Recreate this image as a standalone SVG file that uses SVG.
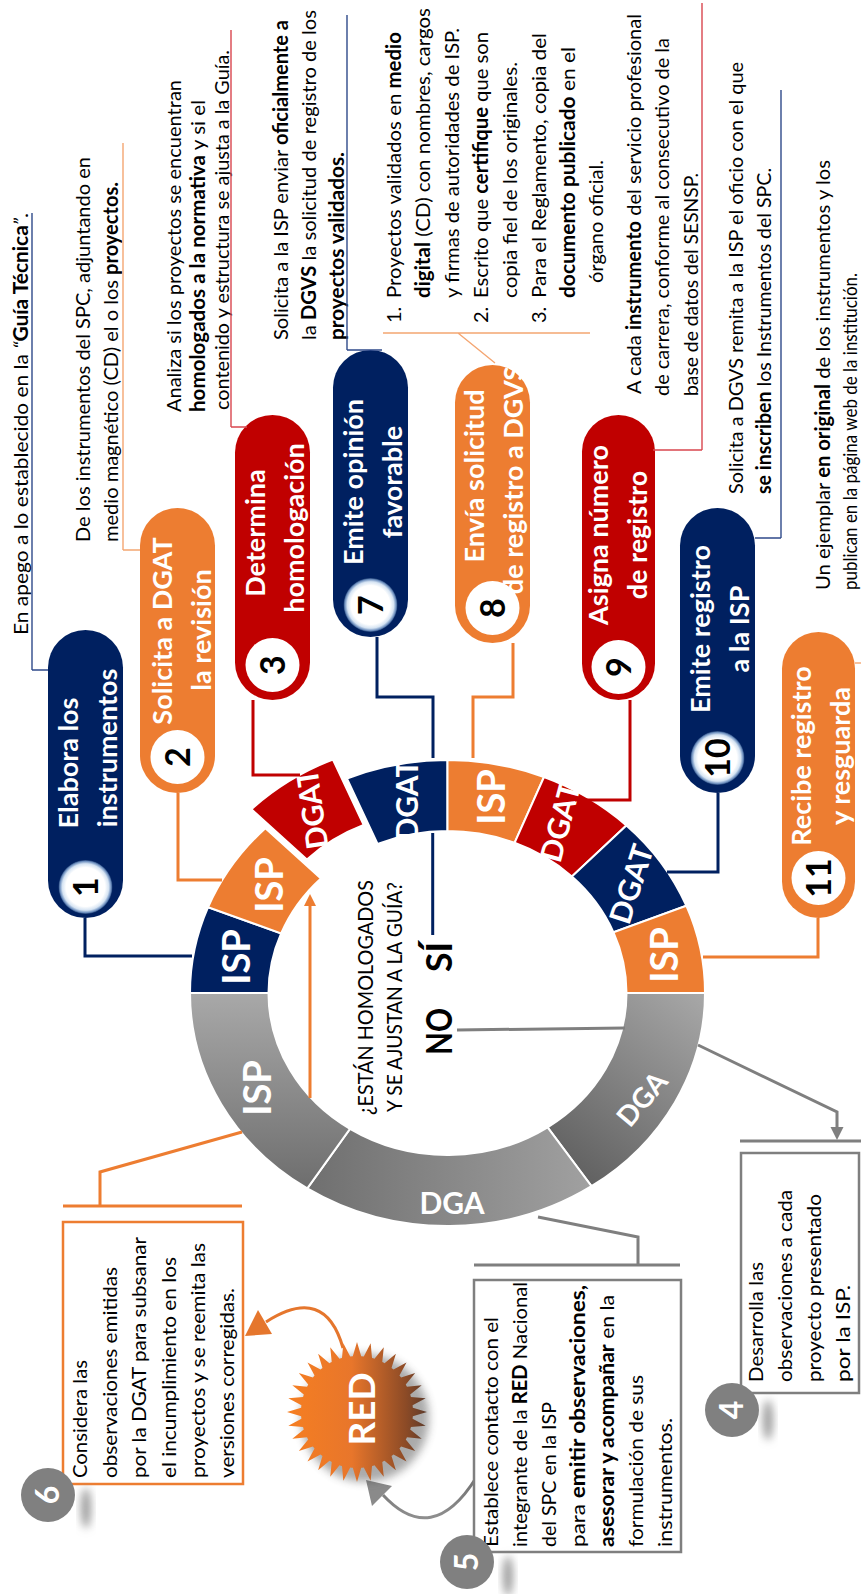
<svg xmlns="http://www.w3.org/2000/svg" width="861" height="1594" viewBox="0 0 861 1594">
<defs>
<style>
.t{font-family:Lato,'Noto Sans','Liberation Sans',sans-serif;fill:#000;font-size:20px}
.b{font-weight:700}
.pt{font-family:Lato,'Noto Sans','Liberation Sans',sans-serif;font-weight:700;fill:#fff;font-size:27px;text-anchor:middle}
.num{font-family:Lato,'Noto Sans','Liberation Sans',sans-serif;font-weight:700;fill:#000;font-size:34px;text-anchor:middle}
.bad{font-family:Lato,'Noto Sans','Liberation Sans',sans-serif;font-weight:700;fill:#fff;font-size:32px;text-anchor:middle}
.rl{font-family:Lato,'Noto Sans','Liberation Sans',sans-serif;font-weight:700;fill:#fff;text-anchor:middle}
.q{font-family:Lato,'Noto Sans','Liberation Sans',sans-serif;fill:#000;font-size:21px}
.yn{font-family:Lato,'Noto Sans','Liberation Sans',sans-serif;fill:#000;font-weight:700;font-size:37px}
.navy{fill:#002060}.orng{fill:#ED7D31}.red{fill:#C00000}
.seg{stroke:#fff;stroke-width:2}
.cn{fill:none;stroke-width:3}
.cl{fill:none;stroke-width:1.4}
.box{fill:#fff;stroke-width:2.5}
</style>
<radialGradient id="glow" cx="0.5" cy="0.5" r="0.5">
<stop offset="0" stop-color="#fff"/><stop offset="0.72" stop-color="#fff"/><stop offset="0.86" stop-color="#d6e4f3"/><stop offset="0.95" stop-color="#6d8fbf"/><stop offset="1" stop-color="#1f3f75"/>
</radialGradient>
<linearGradient id="gISP" gradientUnits="userSpaceOnUse" x1="600" y1="0" x2="400" y2="0"><stop offset="0" stop-color="#a8a8a8"/><stop offset="1" stop-color="#6c6c6c"/></linearGradient>
<linearGradient id="gDGAb" gradientUnits="userSpaceOnUse" x1="0" y1="300" x2="0" y2="600"><stop offset="0" stop-color="#6e6e6e"/><stop offset="1" stop-color="#a2a2a2"/></linearGradient>
<linearGradient id="gDGAr" gradientUnits="userSpaceOnUse" x1="420" y1="560" x2="600" y2="705"><stop offset="0" stop-color="#5e5e5e"/><stop offset="1" stop-color="#a8a8a8"/></linearGradient>
<linearGradient id="gStar" gradientUnits="userSpaceOnUse" x1="0" y1="290" x2="0" y2="427"><stop offset="0" stop-color="#F57E22"/><stop offset="0.45" stop-color="#E8762B"/><stop offset="0.85" stop-color="#8B4A26"/><stop offset="1" stop-color="#5d3b2b"/></linearGradient>
<linearGradient id="gGrayArc" gradientUnits="userSpaceOnUse" x1="120" y1="0" x2="60" y2="0"><stop offset="0" stop-color="#6f6f6f"/><stop offset="1" stop-color="#9a9a9a"/></linearGradient>
<filter id="blur" x="-50%" y="-50%" width="200%" height="200%"><feGaussianBlur stdDeviation="4"/></filter>
<path id="spk" d="M252 357L233.5 351.5L233.5 362.5Z"/>
<clipPath id="starClip">
<circle cx="182" cy="357" r="56"/>
<use href="#spk"/>
<use href="#spk" transform="rotate(11.25 182 357)"/>
<use href="#spk" transform="rotate(22.5 182 357)"/>
<use href="#spk" transform="rotate(33.75 182 357)"/>
<use href="#spk" transform="rotate(45 182 357)"/>
<use href="#spk" transform="rotate(56.25 182 357)"/>
<use href="#spk" transform="rotate(67.5 182 357)"/>
<use href="#spk" transform="rotate(78.75 182 357)"/>
<use href="#spk" transform="rotate(90 182 357)"/>
<use href="#spk" transform="rotate(101.25 182 357)"/>
<use href="#spk" transform="rotate(112.5 182 357)"/>
<use href="#spk" transform="rotate(123.75 182 357)"/>
<use href="#spk" transform="rotate(135 182 357)"/>
<use href="#spk" transform="rotate(146.25 182 357)"/>
<use href="#spk" transform="rotate(157.5 182 357)"/>
<use href="#spk" transform="rotate(168.75 182 357)"/>
<use href="#spk" transform="rotate(180 182 357)"/>
<use href="#spk" transform="rotate(191.25 182 357)"/>
<use href="#spk" transform="rotate(202.5 182 357)"/>
<use href="#spk" transform="rotate(213.75 182 357)"/>
<use href="#spk" transform="rotate(225 182 357)"/>
<use href="#spk" transform="rotate(236.25 182 357)"/>
<use href="#spk" transform="rotate(247.5 182 357)"/>
<use href="#spk" transform="rotate(258.75 182 357)"/>
<use href="#spk" transform="rotate(270 182 357)"/>
<use href="#spk" transform="rotate(281.25 182 357)"/>
<use href="#spk" transform="rotate(292.5 182 357)"/>
<use href="#spk" transform="rotate(303.75 182 357)"/>
<use href="#spk" transform="rotate(315 182 357)"/>
<use href="#spk" transform="rotate(326.25 182 357)"/>
<use href="#spk" transform="rotate(337.5 182 357)"/>
<use href="#spk" transform="rotate(348.75 182 357)"/>
</clipPath>
</defs>
<rect x="0" y="0" width="861" height="1594" fill="#fff"/>
<g transform="translate(0 1594) rotate(-90)">

<g id="ring">
<path class="seg navy" d="M601 190A233 257.5 0 0 1 686.8 208.1L660.6 281.1A162 179 0 0 0 601 268.5Z"/>
<path class="seg orng" d="M686.8 208.1A233 257.5 0 0 1 765.8 265.4L715.6 320.9A162 179 0 0 0 660.6 281.1Z"/>
<path class="seg red" transform="translate(19 -14)" d="M765.8 265.4A233 257.5 0 0 1 815.5 346.9L750.1 377.6A162 179 0 0 0 715.6 320.9Z"/>
<path class="seg navy" d="M815.5 346.9A233 257.5 0 0 1 834 447.5L763 447.5A162 179 0 0 0 750.1 377.6Z"/>
<path class="seg orng" d="M834 447.5A233 257.5 0 0 1 817 544L751.2 514.6A162 179 0 0 0 763 447.5Z"/>
<path class="seg red" d="M817 544A233 257.5 0 0 1 768.6 626.4L717.5 571.9A162 179 0 0 0 751.2 514.6Z"/>
<path class="seg navy" d="M768.6 626.4A233 257.5 0 0 1 688.3 686.3L661.7 613.5A162 179 0 0 0 717.5 571.9Z"/>
<path class="seg orng" d="M688.3 686.3A233 257.5 0 0 1 601 705L601 626.5A162 179 0 0 0 661.7 613.5Z"/>
<path class="seg" fill="url(#gDGAr)" d="M601 705A233 257.5 0 0 1 407.8 591.5L466.7 547.6A162 179 0 0 0 601 626.5Z"/>
<path class="seg" fill="url(#gDGAb)" d="M407.8 591.5A233 257.5 0 0 1 405.6 307.3L465.1 350A162 179 0 0 0 466.7 547.6Z"/>
<path class="seg" fill="url(#gISP)" d="M405.6 307.3A233 257.5 0 0 1 601 190L601 268.5A162 179 0 0 0 465.1 350Z"/>
<text class="rl" x="637" y="250" font-size="38">ISP</text>
<text class="rl" x="709" y="283" font-size="38">ISP</text>
<text class="rl" font-size="30" transform="translate(785 312) rotate(-8)" y="11">DGAT</text>
<text class="rl" x="794" y="418" font-size="30">DGAT</text>
<text class="rl" x="797" y="505" font-size="38">ISP</text>
<text class="rl" font-size="30" transform="translate(772 560) rotate(15)" y="11">DGAT</text>
<text class="rl" font-size="30" transform="translate(710 631) rotate(18)" y="11">DGAT</text>
<text class="rl" x="639" y="678" font-size="38">ISP</text>
<text class="rl" x="506" y="271" font-size="38" fill="#f2f2f2">ISP</text>
<text class="rl" font-size="30" transform="translate(391 452) rotate(90)" y="11">DGA</text>
<text class="rl" font-size="28" transform="translate(495 642) rotate(40)" y="10">DGA</text>
</g>

<g id="question">
<text class="q" x="479" y="373" textLength="235" lengthAdjust="spacingAndGlyphs">¿ESTÁN HOMOLOGADOS</text>
<text class="q" x="482" y="402" textLength="230" lengthAdjust="spacingAndGlyphs">Y SE AJUSTAN A LA GUÍA?</text>
<text class="yn" x="539" y="452" textLength="47" lengthAdjust="spacingAndGlyphs">NO</text>
<text class="yn" x="622" y="452" textLength="30" lengthAdjust="spacingAndGlyphs">SÍ</text>
</g>

<g id="connectors">
<path class="cn" stroke="#002060" d="M676 85H638V192"/>
<path class="cn" stroke="#ED7D31" d="M801 178H714V222"/>
<path class="cn" stroke="#C00000" d="M894 253H819V300"/>
<path class="cn" stroke="#002060" d="M957 377H897V433H836"/>
<path class="cn" stroke="#ED7D31" d="M951 513H897V473H836"/>
<path class="cn" stroke="#C00000" d="M894 630H794V575"/>
<path class="cn" stroke="#002060" d="M801 718H722V667"/>
<path class="cn" stroke="#ED7D31" d="M676 818H637V703"/>
<path class="cn" stroke="#002060" d="M761 432.7H659"/>
<path class="cn" stroke="#7f7f7f" stroke-width="2.5" d="M564 457L566 625"/>
<path class="cn" stroke="#7f7f7f" stroke-width="2.5" d="M549 698L482 837H465"/>
<polygon fill="#7f7f7f" points="454,837 467,830.5 467,843.5"/>
<path class="cn" stroke="#7f7f7f" stroke-width="2.5" d="M453 740V861"/>
<path class="cn" stroke="#7f7f7f" stroke-width="2.5" d="M377 538L357 638H329M329 474V680"/>
<path class="cn" stroke="#ED7D31" stroke-width="2.5" d="M462 242L422 100H388M388 63V242"/>
<path class="cn" stroke="#ED7D31" stroke-width="2.5" d="M496 310H690"/>
<polygon fill="#ED7D31" points="700,310 688,304 688,316"/>
<path class="cn" stroke="#E5762D" stroke-width="11" d="M246 343Q310 325 272 266"/>
<polygon fill="#E5762D" points="258,245 284,258 260,272"/>
<path class="cn" stroke="url(#gGrayArc)" stroke-width="11" d="M116 476Q46 432 99 383"/>
<polygon fill="#8a8a8a" points="114,366 108,392 88,372"/>
</g>

<g id="node-1">
<rect class="navy" x="676" y="48" width="288" height="75" rx="37.5"/>
<circle cx="707" cy="85.5" r="27" fill="url(#glow)"/>
<text class="num" x="707" y="97.5">1</text>
<text class="pt" x="831" y="78">Elabora los</text>
<text class="pt" x="846" y="117">instrumentos</text>
</g>
<g id="node-2">
<rect class="orng" x="801" y="140" width="285" height="75" rx="37.5"/>
<circle cx="837" cy="177.5" r="27" fill="#fff"/>
<text class="num" x="837" y="189.5">2</text>
<text class="pt" x="963" y="172">Solicita a DGAT</text>
<text class="pt" x="964" y="211">la revisión</text>
</g>
<g id="node-3">
<rect class="red" x="894" y="235" width="285" height="75" rx="37.5"/>
<circle cx="929" cy="272.5" r="27" fill="#fff"/>
<text class="num" x="929" y="284.5">3</text>
<text class="pt" x="1061" y="265">Determina</text>
<text class="pt" x="1066" y="304">homologación</text>
</g>
<g id="node-7">
<rect class="navy" x="957" y="333" width="287" height="75" rx="37.5"/>
<circle cx="989" cy="370.5" r="27" fill="url(#glow)"/>
<text class="num" x="989" y="382.5">7</text>
<text class="pt" x="1112" y="363">Emite opinión</text>
<text class="pt" x="1112" y="402">favorable</text>
</g>
<g id="node-8">
<rect class="orng" x="951" y="455" width="278" height="75" rx="37.5"/>
<circle cx="986" cy="492.5" r="27" fill="#fff"/>
<text class="num" x="986" y="504.5">8</text>
<text class="pt" x="1118" y="484">Envía solicitud</text>
<text class="pt" x="1114" y="523">de registro a DGVS</text>
</g>
<g id="node-9">
<rect class="red" x="894" y="582" width="285" height="73" rx="36.5"/>
<circle cx="927" cy="618.5" r="27" fill="#fff"/>
<text class="num" x="927" y="630.5">9</text>
<text class="pt" x="1059" y="608">Asigna número</text>
<text class="pt" x="1059" y="647">de registro</text>
</g>
<g id="node-10">
<rect class="navy" x="801" y="680" width="285" height="75" rx="37.5"/>
<circle cx="836" cy="717.5" r="27" fill="url(#glow)"/>
<text class="num" x="836" y="729.5">10</text>
<text class="pt" x="965" y="710">Emite registro</text>
<text class="pt" x="965" y="749">a la ISP</text>
</g>
<g id="node-11">
<rect class="orng" x="676" y="782" width="286" height="73" rx="36.5"/>
<circle cx="716" cy="818.5" r="27" fill="#fff"/>
<text class="num" x="716" y="830.5">11</text>
<text class="pt" x="838" y="811">Recibe registro</text>
<text class="pt" x="838" y="850">y resguarda</text>
</g>

<g id="callout-1">
<text class="t" x="959" y="28" textLength="422" lengthAdjust="spacingAndGlyphs">En apego a lo establecido en la <tspan font-style="italic">“</tspan><tspan class="b">Guía Técnica</tspan><tspan font-style="italic">”</tspan>.</text>
<path class="cl" stroke="#2F4A8A" d="M924 32H1381M924 32V48"/>
</g>
<g id="callout-2">
<text class="t" x="1052" y="90" textLength="385" lengthAdjust="spacingAndGlyphs">De los instrumentos del SPC,  adjuntando en</text>
<text class="t" x="1052" y="118" textLength="360" lengthAdjust="spacingAndGlyphs">medio magnético (CD) el o los <tspan class="b">proyectos.</tspan></text>
<path class="cl" stroke="#F4A672" d="M1044 123H1451M1044 123V140"/>
</g>
<g id="callout-3">
<text class="t" x="1182" y="181" textLength="332" lengthAdjust="spacingAndGlyphs">Analiza si los proyectos se encuentran</text>
<text class="t" x="1182" y="205" textLength="312" lengthAdjust="spacingAndGlyphs"><tspan class="b">homologados a la normativa</tspan> y si el</text>
<text class="t" x="1184" y="229" textLength="360" lengthAdjust="spacingAndGlyphs">contenido y estructura se ajusta a la Guía.</text>
<path class="cl" stroke="#D9474F" d="M1167 231H1564M1167 231V247"/>
</g>
<g id="callout-7">
<text class="t" x="1254" y="288" textLength="320" lengthAdjust="spacingAndGlyphs">Solicita a la ISP enviar <tspan class="b">oficialmente a</tspan></text>
<text class="t" x="1254" y="316" textLength="330" lengthAdjust="spacingAndGlyphs">la <tspan class="b">DGVS</tspan> la solicitud de registro de los</text>
<text class="t b" x="1254" y="344" textLength="188" lengthAdjust="spacingAndGlyphs">proyectos validados.</text>
<path class="cl" stroke="#2F4A8A" d="M1244 347H1579M1244 347V382"/>
</g>
<g id="callout-8">
<text class="t" x="1271" y="401">1.</text>
<text class="t" x="1271" y="488">2.</text>
<text class="t" x="1271" y="546">3.</text>
<text class="t" x="1296" y="401" textLength="266" lengthAdjust="spacingAndGlyphs">Proyectos validados en <tspan class="b">medio</tspan></text>
<text class="t" x="1296" y="430" textLength="290" lengthAdjust="spacingAndGlyphs"><tspan class="b">digital</tspan> (CD) con nombres, cargos</text>
<text class="t" x="1296" y="459" textLength="270" lengthAdjust="spacingAndGlyphs">y firmas de autoridades de ISP.</text>
<text class="t" x="1296" y="488" textLength="266" lengthAdjust="spacingAndGlyphs">Escrito que <tspan class="b">certifique</tspan> que son</text>
<text class="t" x="1296" y="517" textLength="236" lengthAdjust="spacingAndGlyphs">copia fiel de los originales.</text>
<text class="t" x="1296" y="546" textLength="265" lengthAdjust="spacingAndGlyphs">Para el Reglamento, copia del</text>
<text class="t" x="1296" y="575" textLength="251" lengthAdjust="spacingAndGlyphs"><tspan class="b">documento publicado</tspan> en el</text>
<text class="t" x="1311" y="603" textLength="123" lengthAdjust="spacingAndGlyphs">órgano oficial.</text>
<path class="cl" stroke="#F4A672" d="M1261 383V590M1261 458L1231 495"/>
</g>
<g id="callout-9">
<text class="t" x="1200" y="641" textLength="380" lengthAdjust="spacingAndGlyphs">A cada <tspan class="b">instrumento</tspan> del servicio profesional</text>
<text class="t" x="1198" y="669" textLength="358" lengthAdjust="spacingAndGlyphs">de carrera, conforme al consecutivo de la</text>
<text class="t" x="1198" y="698" textLength="223" lengthAdjust="spacingAndGlyphs">base de datos del SESNSP.</text>
<path class="cl" stroke="#D9474F" d="M1144 702H1591M1144 653V702"/>
</g>
<g id="callout-10">
<text class="t" x="1100" y="743" textLength="432" lengthAdjust="spacingAndGlyphs">Solicita a DGVS remita a la ISP el oficio con el que</text>
<text class="t" x="1100" y="771" textLength="326" lengthAdjust="spacingAndGlyphs"><tspan class="b">se inscriben</tspan> los Instrumentos del SPC.</text>
<path class="cl" stroke="#2F4A8A" d="M1056 781H1504M1056 755V781"/>
</g>
<g id="callout-11">
<text class="t" x="1004" y="830" textLength="430" lengthAdjust="spacingAndGlyphs">Un ejemplar <tspan class="b">en original</tspan> de los instrumentos y los</text>
<text class="t" x="1004" y="857" textLength="317" lengthAdjust="spacingAndGlyphs">publican en la página web de la institución.</text>
<path class="cl" stroke="#F4A672" d="M931 855V870"/>
</g>

<g id="red">
<circle cx="176" cy="365" r="64" fill="#444" opacity="0.45" filter="url(#blur)"/>
<rect x="100" y="275" width="165" height="165" fill="url(#gStar)" clip-path="url(#starClip)"/>
<text class="rl" x="185" y="375" font-size="37">RED</text>
</g>

<g id="box-6">
<rect class="box" stroke="#ED7D31" x="110" y="63" width="262" height="180"/>
<text class="t" x="116" y="87" textLength="118" lengthAdjust="spacingAndGlyphs">Considera las</text>
<text class="t" x="116" y="116.5" textLength="211" lengthAdjust="spacingAndGlyphs">observaciones emitidas</text>
<text class="t" x="116" y="146" textLength="241" lengthAdjust="spacingAndGlyphs">por la DGAT para subsanar</text>
<text class="t" x="116" y="175.5" textLength="221" lengthAdjust="spacingAndGlyphs">el incumplimiento en los</text>
<text class="t" x="116" y="205" textLength="235" lengthAdjust="spacingAndGlyphs">proyectos y se reemita las</text>
<text class="t" x="116" y="234" textLength="190" lengthAdjust="spacingAndGlyphs">versiones corregidas.</text>
<ellipse cx="86" cy="86" rx="20" ry="5" fill="#9a9a9a" filter="url(#blur)"/>
<circle cx="99" cy="48" r="27" fill="#808080"/>
<text class="bad" x="99" y="59">6</text>
</g>
<g id="box-5">
<rect class="box" stroke="#7f7f7f" x="42" y="474" width="272" height="207"/>
<text class="t" x="47" y="498" textLength="230" lengthAdjust="spacingAndGlyphs">Establece contacto con el</text>
<text class="t" x="47" y="527" textLength="265" lengthAdjust="spacingAndGlyphs">integrante de la <tspan class="b">RED</tspan> Nacional</text>
<text class="t" x="47" y="556" textLength="145" lengthAdjust="spacingAndGlyphs">del SPC en la ISP</text>
<text class="t" x="47" y="585" textLength="262" lengthAdjust="spacingAndGlyphs">para <tspan class="b">emitir observaciones,</tspan></text>
<text class="t" x="47" y="614" textLength="252" lengthAdjust="spacingAndGlyphs"><tspan class="b">asesorar y acompañar</tspan> en la</text>
<text class="t" x="47" y="643" textLength="172" lengthAdjust="spacingAndGlyphs">formulación de sus</text>
<text class="t" x="47" y="672" textLength="129" lengthAdjust="spacingAndGlyphs">instrumentos.</text>
<ellipse cx="18" cy="508" rx="20" ry="5" fill="#9a9a9a" filter="url(#blur)"/>
<circle cx="32" cy="467" r="27" fill="#808080"/>
<text class="bad" x="32" y="478">5</text>
</g>
<g id="box-4">
<rect class="box" stroke="#7f7f7f" x="201" y="741" width="240" height="118"/>
<text class="t" x="212" y="763" textLength="120" lengthAdjust="spacingAndGlyphs">Desarrolla las</text>
<text class="t" x="212" y="792" textLength="192" lengthAdjust="spacingAndGlyphs">observaciones a cada</text>
<text class="t" x="212" y="821" textLength="188" lengthAdjust="spacingAndGlyphs">proyecto presentado</text>
<text class="t" x="212" y="850" textLength="97" lengthAdjust="spacingAndGlyphs">por la ISP.</text>
<ellipse cx="174" cy="768" rx="20" ry="5" fill="#9a9a9a" filter="url(#blur)"/>
<circle cx="184" cy="732" r="27" fill="#808080"/>
<text class="bad" x="184" y="743">4</text>
</g>

</g>
</svg>
